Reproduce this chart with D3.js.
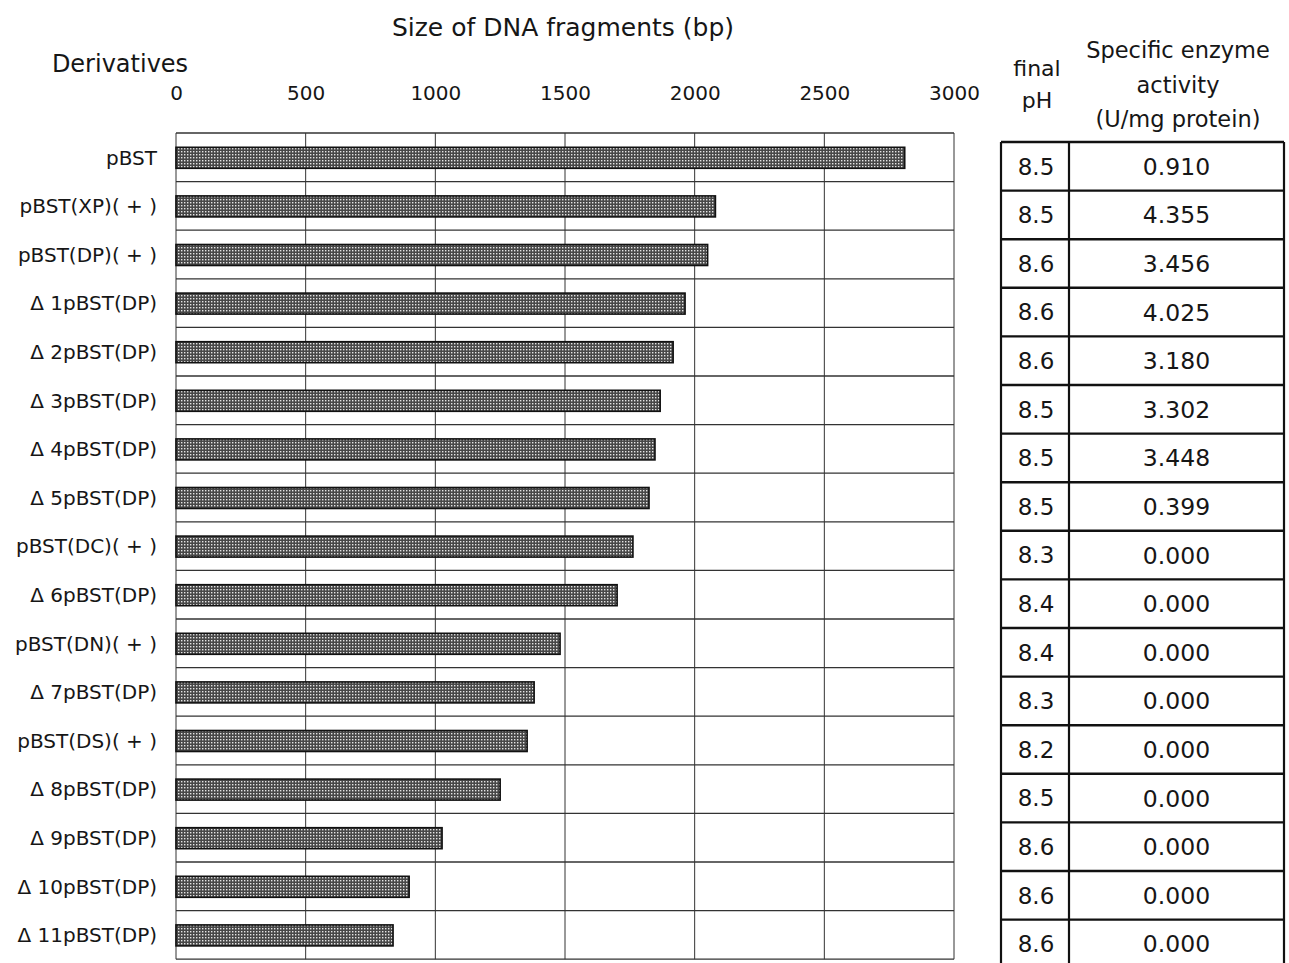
<!DOCTYPE html>
<html>
<head>
<meta charset="utf-8">
<script src="https://cdn.jsdelivr.net/npm/d3@7"></script>
<style>
  body { margin: 0; background: #fff; }
  text { font-family: "DejaVu Sans", "Noto Sans", sans-serif; fill: #161616; }
</style>
</head>
<body>
<div id="chart"></div>
<script>

  ///////////////////////////////////////////////////////////////////////////
  ///////////////////////////////// Data ////////////////////////////////////
  ///////////////////////////////////////////////////////////////////////////
  var derivatives = ["pBST", "pBST(XP)( + )", "pBST(DP)( + )", "\u0394 1pBST(DP)", "\u0394 2pBST(DP)",
    "\u0394 3pBST(DP)", "\u0394 4pBST(DP)", "\u0394 5pBST(DP)", "pBST(DC)( + )", "\u0394 6pBST(DP)",
    "pBST(DN)( + )", "\u0394 7pBST(DP)", "pBST(DS)( + )", "\u0394 8pBST(DP)", "\u0394 9pBST(DP)",
    "\u0394 10pBST(DP)", "\u0394 11pBST(DP)"]
  var fragmentSize = [2810, 2080, 2050, 1963, 1917, 1867, 1847, 1824, 1762, 1701,
    1481, 1381, 1354, 1250, 1026, 899, 837]
  var finalPH = [8.5, 8.5, 8.6, 8.6, 8.6, 8.5, 8.5, 8.5, 8.3, 8.4, 8.4, 8.3, 8.2, 8.5, 8.6, 8.6, 8.6]
  var activity = [0.910, 4.355, 3.456, 4.025, 3.180, 3.302, 3.448, 0.399, 0.000, 0.000,
    0.000, 0.000, 0.000, 0.000, 0.000, 0.000, 0.000]
  var sizeTicks = [0, 500, 1000, 1500, 2000, 2500, 3000]

  ///////////////////////////////////////////////////////////////////////////
  ///////////////////////////////// Globals /////////////////////////////////
  ///////////////////////////////////////////////////////////////////////////
  var W = 1289, H = 963
  var plot = { left: 176, right: 954, top: 133 }
  var rowH = 48.6
  var table = { left: 1001, mid: 1069, right: 1284, top: 142 }

  var svg = d3.select("#chart").append("svg")
    .attr("width", W)
    .attr("height", H)

  // dotted screen fill like the printed bars
  var defs = svg.append("defs")
  var pat = defs.append("pattern")
    .attr("id", "dots")
    .attr("width", 3).attr("height", 3)
    .attr("patternUnits", "userSpaceOnUse")
  pat.append("rect").attr("width", 3).attr("height", 3).attr("fill", "#474747")
  pat.append("rect").attr("x", 1).attr("y", 1).attr("width", 1.4).attr("height", 1.4).attr("fill", "#e4e4e4")

  ///////////////////////////////////////////////////////////////////////////
  ///////////////////////////// Create scales ///////////////////////////////
  ///////////////////////////////////////////////////////////////////////////
  var x = d3.scaleLinear()
    .domain([0, 3000])
    .range([plot.left, plot.right])

  var y = d3.scaleBand()
    .domain(derivatives)
    .range([plot.top, plot.top + rowH * derivatives.length])

  var yTable = d3.scaleBand()
    .domain(derivatives)
    .range([table.top, table.top + rowH * derivatives.length])

  ///////////////////////////////////////////////////////////////////////////
  ///////////////////////////////// Titles //////////////////////////////////
  ///////////////////////////////////////////////////////////////////////////
  svg.append("text")
    .attr("x", 563).attr("y", 36)
    .attr("text-anchor", "middle")
    .style("font-size", "25px")
    .text("Size of DNA fragments (bp)")

  svg.append("text")
    .attr("x", 120).attr("y", 72)
    .attr("text-anchor", "middle")
    .style("font-size", "24px")
    .text("Derivatives")

  svg.selectAll(".headPH")
    .data(["final", "pH"])
    .enter().append("text")
    .attr("x", 1037)
    .attr("y", (d, i) => 76 + i * 32)
    .attr("text-anchor", "middle")
    .style("font-size", "22px")
    .text(d => d)

  svg.selectAll(".headAct")
    .data(["Specific enzyme", "activity", "(U/mg protein)"])
    .enter().append("text")
    .attr("x", 1178)
    .attr("y", (d, i) => 58 + i * 34.5)
    .attr("text-anchor", "middle")
    .style("font-size", "22.5px")
    .text(d => d)

  ///////////////////////////////////////////////////////////////////////////
  ////////////////////////////////// Axis ///////////////////////////////////
  ///////////////////////////////////////////////////////////////////////////
  var axis = svg.append("g")
    .attr("transform", "translate(0," + 100 + ")")
    .call(d3.axisTop(x).tickValues(sizeTicks).tickFormat(d3.format("d")).tickSize(0).tickPadding(0))
  axis.select(".domain").remove()
  axis.selectAll("text")
    .style("font-size", "20px")
    .style("font-family", "DejaVu Sans")
    .attr("fill", "#161616")

  // vertical grid
  svg.append("g").selectAll("line")
    .data(sizeTicks)
    .enter().append("line")
    .attr("x1", d => x(d)).attr("x2", d => x(d))
    .attr("y1", plot.top).attr("y2", y.range()[1])
    .attr("stroke", "#333")
    .attr("stroke-width", 1)

  // horizontal grid between rows
  svg.append("g").selectAll("line")
    .data(d3.range(derivatives.length + 1))
    .enter().append("line")
    .attr("x1", plot.left).attr("x2", plot.right)
    .attr("y1", d => plot.top + d * rowH).attr("y2", d => plot.top + d * rowH)
    .attr("stroke", "#333")
    .attr("stroke-width", 1.3)

  ///////////////////////////////////////////////////////////////////////////
  ////////////////////////////////// Bars ///////////////////////////////////
  ///////////////////////////////////////////////////////////////////////////
  var barH = 21
  svg.append("g").selectAll("rect")
    .data(derivatives)
    .enter().append("rect")
    .attr("x", x(0))
    .attr("y", d => y(d) + y.bandwidth() / 2 - barH / 2 + 0.5)
    .attr("width", (d, i) => x(fragmentSize[i]) - x(0))
    .attr("height", barH)
    .attr("fill", "url(#dots)")
    .attr("stroke", "#111")
    .attr("stroke-width", 1.6)

  svg.append("g").selectAll("text")
    .data(derivatives)
    .enter().append("text")
    .attr("x", 157)
    .attr("y", d => y(d) + y.bandwidth() / 2)
    .attr("dy", "0.36em")
    .attr("text-anchor", "end")
    .style("font-size", "20px")
    .text(d => d)

  ///////////////////////////////////////////////////////////////////////////
  ////////////////////////////////// Table //////////////////////////////////
  ///////////////////////////////////////////////////////////////////////////
  var tg = svg.append("g")
  tg.selectAll("line.row")
    .data(d3.range(derivatives.length + 1))
    .enter().append("line")
    .attr("x1", table.left).attr("x2", table.right)
    .attr("y1", d => table.top + d * rowH).attr("y2", d => table.top + d * rowH)
    .attr("stroke", "#111")
    .attr("stroke-width", 2.4)

  tg.selectAll("line.col")
    .data([table.left, table.mid, table.right])
    .enter().append("line")
    .attr("x1", d => d).attr("x2", d => d)
    .attr("y1", table.top).attr("y2", H)
    .attr("stroke", "#111")
    .attr("stroke-width", 2.2)

  tg.selectAll("text.ph")
    .data(derivatives)
    .enter().append("text")
    .attr("x", (table.left + table.mid) / 2 + 1)
    .attr("y", d => yTable(d) + yTable.bandwidth() / 2)
    .attr("dy", "0.36em")
    .attr("text-anchor", "middle")
    .style("font-size", "23px")
    .text((d, i) => d3.format(".1f")(finalPH[i]))

  tg.selectAll("text.act")
    .data(derivatives)
    .enter().append("text")
    .attr("x", (table.mid + table.right) / 2)
    .attr("y", d => yTable(d) + yTable.bandwidth() / 2)
    .attr("dy", "0.36em")
    .attr("text-anchor", "middle")
    .style("font-size", "23.5px")
    .text((d, i) => d3.format(".3f")(activity[i]))

</script>
</body>
</html>
